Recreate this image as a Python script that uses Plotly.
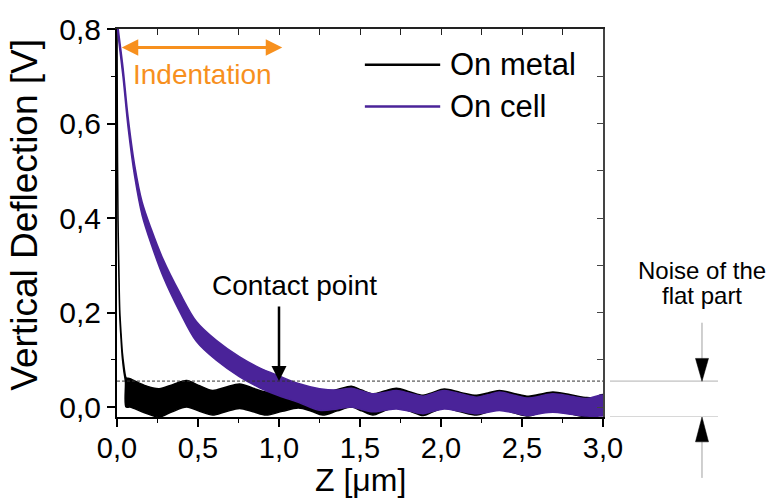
import plotly.graph_objects as go

# Force curves: upper / lower envelope of the noisy deflection signal
z_metal = [0.000, 0.002, 0.006, 0.012, 0.017, 0.025, 0.033, 0.043, 0.052, 0.056,
           0.08, 0.17, 0.26, 0.34, 0.43, 0.51, 0.59, 0.67, 0.757, 0.84,
           0.92, 1.02, 1.12, 1.20, 1.27, 1.36, 1.447, 1.51, 1.58, 1.65,
           1.725, 1.81, 1.89, 1.95, 2.02, 2.12, 2.22, 2.29, 2.36, 2.45,
           2.54, 2.61, 2.69, 2.80, 2.90, 2.95, 2.98, 3.00]
metal_hi = [0.815, 0.606, 0.406, 0.286, 0.206, 0.156, 0.116, 0.086, 0.066, 0.062,
            0.060, 0.046, 0.039, 0.047, 0.056, 0.045, 0.035, 0.042, 0.049, 0.040,
            0.032, 0.038, 0.045, 0.038, 0.030, 0.037, 0.044, 0.036, 0.028, 0.034,
            0.040, 0.032, 0.025, 0.031, 0.038, 0.031, 0.025, 0.030, 0.035, 0.029,
            0.023, 0.027, 0.032, 0.026, 0.020, 0.020, 0.025, 0.026]
metal_lo = [0.785, 0.594, 0.394, 0.274, 0.194, 0.144, 0.104, 0.074, 0.054, 0.000,
            0.000, -0.012, -0.021, -0.010, 0.000, -0.009, -0.017, -0.010, -0.003, -0.010,
            -0.017, -0.009, -0.002, -0.009, -0.017, -0.008, 0.000, -0.008, -0.017, -0.008,
            -0.001, -0.009, -0.018, -0.010, -0.002, -0.010, -0.017, -0.010, -0.004, -0.012,
            -0.019, -0.012, -0.006, -0.014, -0.021, -0.018, -0.010, -0.008]

z_cell = [0.000, 0.005, 0.037, 0.068, 0.109, 0.155, 0.212, 0.284, 0.387, 0.49,
          0.613, 0.757, 0.88, 1.00, 1.12, 1.25, 1.36, 1.447, 1.51, 1.58,
          1.65, 1.725, 1.81, 1.89, 1.95, 2.02, 2.12, 2.22, 2.29, 2.36,
          2.45, 2.54, 2.61, 2.69, 2.80, 2.90, 2.98, 3.00]
cell_hi = [0.828, 0.808, 0.719, 0.615, 0.512, 0.434, 0.376, 0.313, 0.242, 0.181,
           0.141, 0.106, 0.083, 0.066, 0.050, 0.039, 0.036, 0.040, 0.034, 0.028,
           0.031, 0.035, 0.029, 0.023, 0.029, 0.035, 0.028, 0.021, 0.026, 0.032,
           0.025, 0.019, 0.023, 0.028, 0.023, 0.018, 0.025, 0.025]
cell_lo = [0.812, 0.792, 0.699, 0.593, 0.488, 0.406, 0.344, 0.277, 0.202, 0.139,
           0.099, 0.064, 0.041, 0.024, 0.010, -0.007, -0.004, 0.000, -0.005, -0.010,
           -0.007, -0.004, -0.009, -0.014, -0.009, -0.004, -0.009, -0.014, -0.011, -0.007,
           -0.012, -0.018, -0.014, -0.011, -0.015, -0.019, -0.019, -0.018]

series_names = ["On metal", "On cell"]
series_colors = ["#000000", "#4a2399"]

x_range = [0.0, 3.0]
y_range = [-0.021, 0.8]
x_ticks = [0.0, 0.5, 1.0, 1.5, 2.0, 2.5, 3.0]
y_ticks = [0.0, 0.2, 0.4, 0.6, 0.8]

contact_z = 1.0          # contact point position [µm]
noise_level = 0.055      # top of the flat-part noise band [V]
indent_span = [0.02, 1.02]
indent_level = 0.761

FONT = "Liberation Sans, Arial, Helvetica, sans-serif"
ORANGE = "#f7901e"


def band_polygon(z, hi, lo):
    return list(z) + list(z)[::-1], list(hi) + list(lo)[::-1]


fig = go.Figure()

for z, hi, lo, name, col in [(z_metal, metal_hi, metal_lo, series_names[0], series_colors[0]),
                             (z_cell, cell_hi, cell_lo, series_names[1], series_colors[1])]:
    bx, by = band_polygon(z, hi, lo)
    fig.add_trace(go.Scatter(x=bx, y=by, mode="lines", fill="toself",
                             fillcolor=col,
                             line=dict(color=col, width=1.5, shape="spline", smoothing=0.9),
                             name=name, showlegend=False, hoverinfo="skip"))

# helper trace so the mirrored top/right axes are drawn
fig.add_trace(go.Scatter(x=[None], y=[None], xaxis="x2", yaxis="y2",
                         showlegend=False, hoverinfo="skip"))

tickfont = dict(family=FONT, size=29, color="#000000")

fig.update_layout(
    width=770, height=500,
    margin=dict(l=117, r=167, t=26, b=83),
    paper_bgcolor="white", plot_bgcolor="white",
    separators=",.",
    showlegend=False,
    font=dict(family=FONT, color="#000000"),
    xaxis=dict(range=x_range, tickvals=x_ticks, tickformat=".1f",
               showgrid=False, zeroline=False,
               showline=True, linecolor="#000000", linewidth=2,
               ticks="outside", ticklen=8, tickwidth=1.5, tickcolor="#000000",
               ticklabelstandoff=-4,
               minor=dict(dtick=0.25, ticks="outside", ticklen=4, tickwidth=1.2,
                          tickcolor="#000000", showgrid=False),
               tickfont=tickfont),
    yaxis=dict(range=y_range, tickvals=y_ticks, tickformat=".1f",
               showgrid=False, zeroline=False,
               showline=True, linecolor="#000000", linewidth=2,
               ticks="outside", ticklen=8, tickwidth=1.5, tickcolor="#000000",
               minor=dict(dtick=0.1, tick0=0, ticks="outside", ticklen=4, tickwidth=1.2,
                          tickcolor="#000000", showgrid=False),
               tickfont=dict(family=FONT, size=30, color="#000000")),
    xaxis2=dict(overlaying="x", side="top", range=x_range, dtick=0.25, tick0=0,
                showticklabels=False, showgrid=False, zeroline=False,
                showline=True, linecolor="#222222", linewidth=1.5,
                ticks="inside", ticklen=6, tickwidth=1.2, tickcolor="#222222"),
    yaxis2=dict(overlaying="y", side="right", range=y_range, dtick=0.1, tick0=0,
                showticklabels=False, showgrid=False, zeroline=False,
                showline=True, linecolor="#444444", linewidth=1.5,
                ticks="inside", ticklen=6, tickwidth=1.2, tickcolor="#444444"),
)

# flat-part noise threshold
fig.add_shape(type="line", xref="x", yref="y", x0=x_range[0], x1=x_range[1],
              y0=noise_level, y1=noise_level,
              line=dict(color="#333333", width=1, dash="3px,2px"), layer="above")

# legend drawn by hand (long sample lines)
leg_rows = [0.908, 0.800]
for row, name, col in zip(leg_rows, series_names, series_colors):
    fig.add_shape(type="line", xref="paper", yref="paper", x0=0.510, x1=0.665,
                  y0=row, y1=row, line=dict(color=col, width=2.5))
    fig.add_annotation(xref="paper", yref="paper", x=0.681, y=row, text=name,
                       showarrow=False, xanchor="left", yanchor="middle",
                       font=dict(family=FONT, size=31, color="#000000"))

# indentation double arrow
fig.add_annotation(x=indent_span[1], y=indent_level, ax=indent_span[0], ay=indent_level,
                   xref="x", yref="y", axref="x", ayref="y", text="",
                   showarrow=True, arrowside="end+start", arrowhead=2,
                   arrowsize=1.1, arrowwidth=3, arrowcolor=ORANGE)
fig.add_annotation(xref="paper", yref="paper", x=0.176, y=0.884, text="Indentation",
                   showarrow=False, xanchor="center", yanchor="middle",
                   font=dict(family=FONT, size=28, color=ORANGE))

# contact point arrow
fig.add_annotation(x=contact_z, y=noise_level, xref="x", yref="y", ax=0, ay=-76,
                   text="", showarrow=True, arrowhead=2, arrowsize=1.2,
                   arrowwidth=2.5, arrowcolor="#000000")
fig.add_annotation(xref="paper", yref="paper", x=0.365, y=0.338, text="Contact point",
                   showarrow=False, xanchor="center", yanchor="middle",
                   font=dict(family=FONT, size=28, color="#000000"))

# axis titles
fig.add_annotation(xref="paper", yref="paper", x=0.5, y=-0.2115, text="Z [μm]",
                   showarrow=False, xanchor="center", yanchor="bottom", borderpad=0,
                   font=dict(family=FONT, size=32, color="#000000"))
fig.add_annotation(xref="paper", yref="paper", x=-0.191, y=0.522,
                   text="Vertical Deflection [V]", textangle=-90,
                   showarrow=False, xanchor="center", yanchor="middle",
                   font=dict(family=FONT, size=37, color="#000000"))

# noise of the flat part: dimension marks outside the plot
gx0, gx1, gxc = 1.0144, 1.2366, 1.2037
for lvl in (noise_level, y_range[0]):
    fig.add_shape(type="line", xref="paper", yref="y", x0=gx0, x1=gx1, y0=lvl, y1=lvl,
                  line=dict(color="#b0b0b0", width=1))
fig.add_shape(type="line", xref="paper", yref="paper", x0=gxc, x1=gxc, y0=0.243, y1=0.150,
              line=dict(color="#a0a0a0", width=1))
fig.add_shape(type="line", xref="paper", yref="paper", x0=gxc, x1=gxc, y0=-0.064, y1=-0.157,
              line=dict(color="#a0a0a0", width=1))
hw = 0.0134
fig.add_shape(type="path", xref="paper", yref="paper",
              path=f"M {gxc-hw},0.151 L {gxc+hw},0.151 L {gxc},0.092 Z",
              fillcolor="#000000", line=dict(color="#000000", width=0.5))
fig.add_shape(type="path", xref="paper", yref="paper",
              path=f"M {gxc-hw},-0.064 L {gxc+hw},-0.064 L {gxc},0.000 Z",
              fillcolor="#000000", line=dict(color="#000000", width=0.5))
fig.add_annotation(xref="paper", yref="paper", x=gxc, y=0.377, text="Noise of the",
                   showarrow=False, xanchor="center", yanchor="middle",
                   font=dict(family=FONT, size=24, color="#000000"))
fig.add_annotation(xref="paper", yref="paper", x=gxc, y=0.313, text="flat part",
                   showarrow=False, xanchor="center", yanchor="middle",
                   font=dict(family=FONT, size=24, color="#000000"))

fig.write_html("out.html")
